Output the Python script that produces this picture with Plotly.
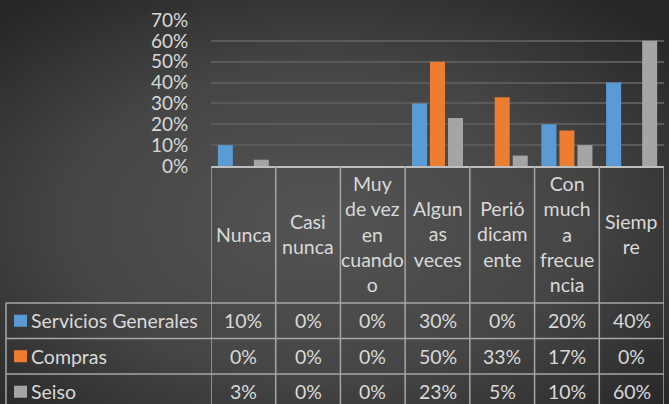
import base64
import plotly.graph_objects as go

# ---------------- data ----------------
categories = ["Nunca", "Casi nunca", "Muy de vez en cuando", "Algunas veces",
              "Periódicamente", "Con mucha frecuencia", "Siempre"]
header_labels = ["Nunca", "Casi<br>nunca", "Muy<br>de vez<br>en<br>cuando<br>o",
                 "Algun<br>as<br>veces", "Perió<br>dicam<br>ente",
                 "Con<br>much<br>a<br>frecue<br>ncia", "Siemp<br>re"]
series_names = ["Servicios Generales", "Compras", "Seiso"]
servicios = [0.10, 0.00, 0.00, 0.30, 0.00, 0.20, 0.40]
compras = [0.00, 0.00, 0.00, 0.50, 0.33, 0.17, 0.00]
seiso = [0.03, 0.00, 0.00, 0.23, 0.05, 0.10, 0.60]
series_values = [servicios, compras, seiso]
y_ticks = [0, 0.1, 0.2, 0.3, 0.4, 0.5, 0.6, 0.7]
y_tick_labels = ["0%", "10%", "20%", "30%", "40%", "50%", "60%", "70%"]

# ---------------- style ----------------
W, H = 669, 404
colors = ["#5B9BD5", "#ED7D31", "#A5A5A5"]
text_color = "#D9D9D9"
line_color = "#A6A6A6"
FONT = "Lato"
FS = 19.5

def px_x(x):
    return x / W

def px_y(y):
    return 1 - y / H

plot_left, plot_right = 211, 664
plot_top, plot_bottom = 20, 166
header_bottom = 303
row_h = 35.5
table_left = 6

fig = go.Figure()
for name, vals, col in zip(series_names, series_values, colors):
    fig.add_trace(go.Bar(x=categories, y=vals, name=name, marker_color=col,
                         marker_line_width=0, showlegend=False))

svg = ("<svg xmlns='http://www.w3.org/2000/svg' width='669' height='404'>"
       "<defs><radialGradient id='g' cx='48%' cy='55%' r='70%'>"
       "<stop offset='0' stop-color='#545454'/>"
       "<stop offset='0.55' stop-color='#454545'/>"
       "<stop offset='1' stop-color='#262626'/>"
       "</radialGradient></defs>"
       "<rect width='669' height='404' fill='url(#g)'/></svg>")
src = "data:image/svg+xml;base64," + base64.b64encode(svg.encode()).decode()

shapes = []
ln = dict(color=line_color, width=1.5)
# vertical column lines (header + body)
for i in range(len(categories) + 1):
    shapes.append(dict(type="line", xref="x", yref="paper",
                       x0=i - 0.5, x1=i - 0.5,
                       y0=px_y(plot_bottom), y1=px_y(H + 5), line=ln))
# horizontal body lines
for r in range(len(series_names) + 1):
    y = header_bottom + r * row_h
    shapes.append(dict(type="line", xref="paper", yref="paper",
                       x0=px_x(table_left), x1=px_x(plot_right),
                       y0=px_y(y), y1=px_y(y), line=ln))
# left border of body
shapes.append(dict(type="line", xref="paper", yref="paper",
                   x0=px_x(table_left), x1=px_x(table_left),
                   y0=px_y(header_bottom), y1=px_y(H + 5), line=ln))

annotations = []
# header labels
for cat, lab in zip(categories, header_labels):
    annotations.append(dict(x=cat, xref="x", yref="paper",
                            y=px_y((plot_bottom + header_bottom) / 2),
                            text=lab, showarrow=False, xanchor="center",
                            yanchor="middle", align="center",
                            font=dict(family=FONT, size=FS, color=text_color)))
# rows
for r, (name, vals, col) in enumerate(zip(series_names, series_values, colors)):
    yc = header_bottom + r * row_h + row_h / 2
    shapes.append(dict(type="rect", xref="paper", yref="paper",
                       x0=px_x(14), x1=px_x(27),
                       y0=px_y(yc - 6), y1=px_y(yc + 6),
                       fillcolor=col, line=dict(width=0)))
    annotations.append(dict(x=px_x(29), xref="paper", yref="paper", y=px_y(yc),
                            text=name, showarrow=False, xanchor="left",
                            yanchor="middle",
                            font=dict(family=FONT, size=FS, color=text_color)))
    for cat, v in zip(categories, vals):
        annotations.append(dict(x=cat, xref="x", yref="paper", y=px_y(yc),
                                text=f"{round(v * 100)}%", showarrow=False,
                                xanchor="center", yanchor="middle",
                                font=dict(family=FONT, size=FS, color=text_color)))

fig.update_layout(
    width=W, height=H, autosize=False,
    margin=dict(l=0, r=0, t=0, b=0, pad=0),
    paper_bgcolor="#404040", plot_bgcolor="rgba(0,0,0,0)",
    barmode="group", bargap=0.165, bargroupgap=0.167,
    images=[dict(source=src, xref="paper", yref="paper", x=0, y=1,
                 sizex=1, sizey=1, sizing="stretch", layer="below",
                 xanchor="left", yanchor="top")],
    xaxis=dict(domain=[px_x(plot_left), px_x(plot_right)], range=[-0.5, 6.5],
               showticklabels=False, showgrid=False, zeroline=False,
               showline=True, linecolor="#BFBFBF", linewidth=2, ticks="",
               automargin=False, fixedrange=True),
    yaxis=dict(domain=[px_y(plot_bottom), px_y(plot_top)], range=[0, 0.7],
               tickvals=y_ticks, ticktext=y_tick_labels,
               tickfont=dict(family=FONT, size=19, color=text_color),
               ticks="outside", ticklen=18, tickcolor="rgba(0,0,0,0)",
               showgrid=True, gridcolor="#5A5A5A", gridwidth=1.5,
               zeroline=False, showline=False, automargin=False,
               fixedrange=True),
    shapes=shapes, annotations=annotations,
    font=dict(family=FONT, color=text_color),
)

fig.write_html("out.html", config={"displayModeBar": False},
               post_script="document.body.style.margin='0';"
                           "document.body.style.overflow='hidden';")
